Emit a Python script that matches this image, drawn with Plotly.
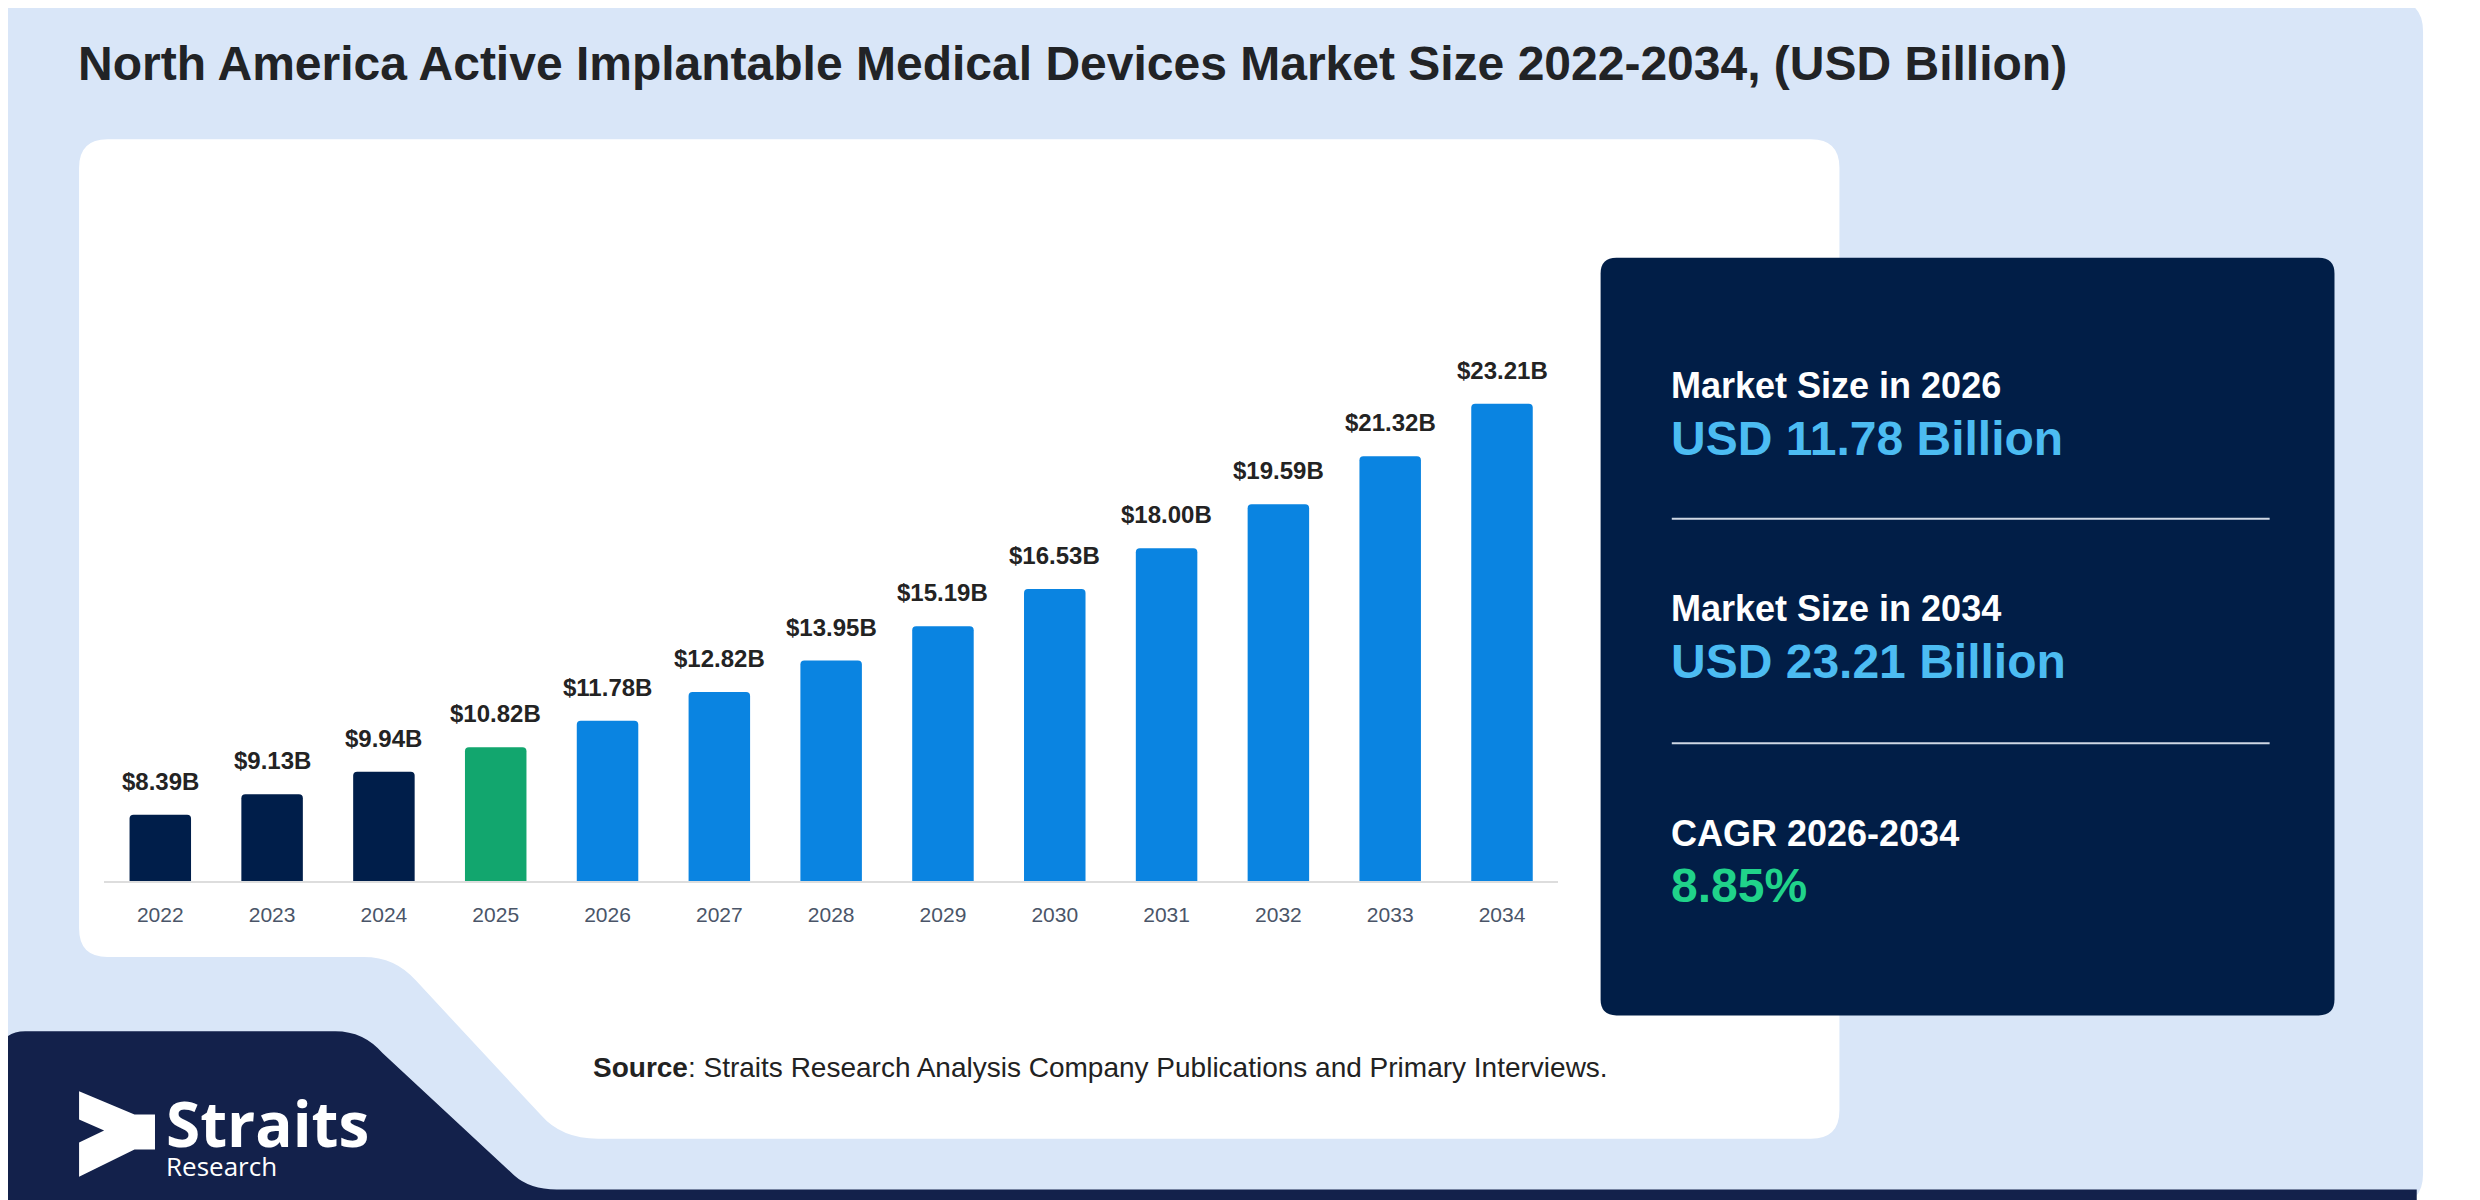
import plotly.graph_objects as go

# data
years = ["2022", "2023", "2024", "2025", "2026", "2027", "2028",
         "2029", "2030", "2031", "2032", "2033", "2034"]
market_size = [8.39, 9.13, 9.94, 10.82, 11.78, 12.82, 13.95,
               15.19, 16.53, 18.00, 19.59, 21.32, 23.21]
period = ["historic", "historic", "historic", "base", "forecast", "forecast", "forecast",
          "forecast", "forecast", "forecast", "forecast", "forecast", "forecast"]

summary_labels = ["Market Size in 2026", "Market Size in 2034", "CAGR 2026-2034"]
summary_values = ["USD 11.78 Billion", "USD 23.21 Billion", "8.85%"]

title = "North America Active Implantable Medical Devices Market Size 2022-2034, (USD Billion)"
source_text = "<b>Source</b>: Straits Research Analysis Company Publications and Primary Interviews."
logo_text = ("<b><span style='font-size:62px'>Straits</span></b><br>"
             "<span style='font-size:26px'>Research</span>")

# styling
W, H = 2480, 1200
FONT = "Liberation Sans, Arial, sans-serif"
LOGO_FONT = "Open Sans, Noto Sans, sans-serif"
NAVY = "#011e47"
LOGO_NAVY = "#13214b"
LIGHT_BG = "#d9e6f8"
period_colors = {"historic": "#001e4a", "base": "#12a66e", "forecast": "#0a84e1"}
value_colors = ["#4cbcf2", "#4cbcf2", "#20d38a"]

# layout is sketched on a 1568x759 grid, converted to figure pixels here
S = 2480 / 1568


def X(d):
    return d * S - 8


def Y(d):
    return d * S - 8


def pt(dx, dy):
    return f"{X(dx) / W:.5f},{1 - Y(dy) / H:.5f}"


def px(dx):
    return X(dx) / W


def py(dy):
    return 1 - Y(dy) / H


def round_rect(x0, y0, x1, y1, r):
    return (f"M {pt(x0 + r, y0)} L {pt(x1 - r, y0)} Q {pt(x1, y0)} {pt(x1, y0 + r)} "
            f"L {pt(x1, y1 - r)} Q {pt(x1, y1)} {pt(x1 - r, y1)} "
            f"L {pt(x0 + r, y1)} Q {pt(x0, y1)} {pt(x0, y1 - r)} "
            f"L {pt(x0, y0 + r)} Q {pt(x0, y0)} {pt(x0 + r, y0)} Z")


fig = go.Figure()

fig.add_trace(go.Bar(
    x=years,
    y=market_size,
    marker=dict(color=[period_colors[p] for p in period], cornerradius=4, line=dict(width=0)),
    width=0.55,
    hoverinfo="x+y",
))

shapes = []
# outer light blue card
shapes.append(dict(type="path", path=round_rect(0, 0, 1532, 762, 20),
                   xref="paper", yref="paper", fillcolor=LIGHT_BG, line=dict(width=0), layer="below"))
# white chart panel with the notch at the bottom left
white_path = (f"M {pt(68, 88)} L {pt(1145, 88)} Q {pt(1163, 88)} {pt(1163, 106)} "
              f"L {pt(1163, 702)} Q {pt(1163, 720)} {pt(1145, 720)} "
              f"L {pt(378, 720)} Q {pt(355, 720)} {pt(342, 705)} "
              f"L {pt(263, 620)} Q {pt(250, 605)} {pt(230, 605)} "
              f"L {pt(68, 605)} Q {pt(50, 605)} {pt(50, 587)} "
              f"L {pt(50, 106)} Q {pt(50, 88)} {pt(68, 88)} Z")
shapes.append(dict(type="path", path=white_path, xref="paper", yref="paper",
                   fillcolor="white", line=dict(width=0), layer="below"))
# navy logo block at the bottom left and the strip along the bottom
logo_path = (f"M {pt(0, 668)} Q {pt(0, 652)} {pt(16, 652)} L {pt(212, 652)} "
             f"Q {pt(230, 652)} {pt(242, 666)} L {pt(325, 743)} "
             f"Q {pt(335, 752)} {pt(352, 752)} L {pt(1528, 752)} L {pt(1528, 764)} "
             f"L {pt(16, 764)} Q {pt(0, 764)} {pt(0, 748)} Z")
shapes.append(dict(type="path", path=logo_path, xref="paper", yref="paper",
                   fillcolor=LOGO_NAVY, line=dict(width=0), layer="below"))
# logo arrow mark
ax0, ay0, aw, ah = 50, 690, 48, 54
arrow = [(0, 0), (0.73, 0.27), (1, 0.27), (1, 0.68), (0.73, 0.68), (0, 1),
         (0, 0.6), (0.33, 0.46), (0, 0.33)]
arrow_path = "M " + " L ".join(pt(ax0 + u * aw, ay0 + v * ah) for u, v in arrow) + " Z"
shapes.append(dict(type="path", path=arrow_path, xref="paper", yref="paper",
                   fillcolor="white", line=dict(width=0)))
# summary box
shapes.append(dict(type="path", path=round_rect(1012, 163, 1476, 642, 10),
                   xref="paper", yref="paper", fillcolor=NAVY, line=dict(width=0)))
for ly in [328, 470]:
    shapes.append(dict(type="line", xref="paper", yref="paper",
                       x0=px(1057), x1=px(1435), y0=py(ly), y1=py(ly),
                       line=dict(color="rgba(230,236,245,0.9)", width=2)))

annotations = []
# title
annotations.append(dict(xref="paper", yref="paper", x=px(48), y=py(40),
                        xanchor="left", yanchor="middle", showarrow=False, text=title,
                        font=dict(family=FONT, size=48, weight="bold", color="#212326")))
# value labels above the bars (x is the category index on the x axis)
for i, v in enumerate(market_size):
    annotations.append(dict(xref="x", yref="y", x=i, y=v, yanchor="bottom", yshift=18,
                            showarrow=False, text=f"${v:.2f}B",
                            font=dict(family=FONT, size=24, weight="bold", color="#232323")))
# summary box text
label_y = [244, 385, 527]
value_y = [277, 418, 560]
for lab, val, col, y1, y2 in zip(summary_labels, summary_values, value_colors, label_y, value_y):
    annotations.append(dict(xref="paper", yref="paper", x=px(1055), y=py(y1),
                            xanchor="left", yanchor="middle", showarrow=False, text=lab,
                            font=dict(family=FONT, size=36, weight="bold", color="white")))
    annotations.append(dict(xref="paper", yref="paper", x=px(1055), y=py(y2),
                            xanchor="left", yanchor="middle", showarrow=False, text=val,
                            font=dict(family=FONT, size=48, weight="bold", color=col)))
# source
annotations.append(dict(xref="paper", yref="paper", x=px(696), y=py(675),
                        xanchor="center", yanchor="middle", showarrow=False, text=source_text,
                        font=dict(family=FONT, size=28, color="#222222")))
# logo text
annotations.append(dict(xref="paper", yref="paper", x=px(104), y=py(716),
                        xanchor="left", yanchor="middle", align="left", showarrow=False,
                        text=logo_text,
                        font=dict(family=LOGO_FONT, size=22, color="white")))

fig.update_layout(
    width=W, height=H,
    margin=dict(l=0, r=0, t=0, b=0, autoexpand=False),
    paper_bgcolor="white",
    plot_bgcolor="rgba(0,0,0,0)",
    showlegend=False,
    bargap=0.45,
    xaxis=dict(
        domain=[px(66), px(985)],
        type="category",
        range=[-0.5, 12.5],
        showgrid=False,
        showline=True,
        linecolor="#dddddd",
        linewidth=2,
        ticks="",
        ticklabelstandoff=14,
        tickfont=dict(family=FONT, size=21, color="#4a5568"),
        fixedrange=True,
    ),
    yaxis=dict(
        domain=[py(557), py(195)],
        range=[6, 26.65],
        showgrid=False,
        zeroline=False,
        showline=False,
        showticklabels=False,
        fixedrange=True,
    ),
    shapes=shapes,
    annotations=annotations,
)

fig.write_html("out.html")
